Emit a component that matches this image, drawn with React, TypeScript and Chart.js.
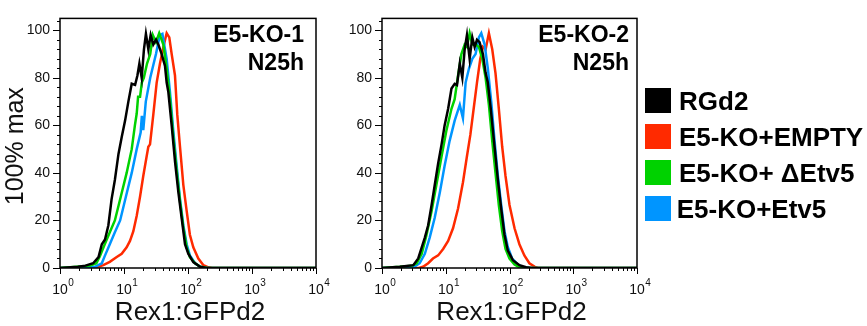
import React, { useEffect, useRef } from "react";
import { Chart, registerables } from "chart.js";

Chart.register(...registerables);

const FONT = '"Liberation Sans", Arial, Helvetica, sans-serif';

// ---- data (x = Rex1:GFPd2 intensity, y = % of max) ----
const seriesNames = ["RGd2", "E5-KO+EMPTY", "E5-KO+ \u0394Etv5", "E5-KO+Etv5"];
const seriesColors = ["#000000", "#ff2a00", "#00d200", "#0095ff"];

const ko1Black = [[1,0],[1.9,0.5],[2.5,1],[3.3,2],[4.0,4.6],[4.5,10],[5.05,12],[5.7,18],[6.4,29],[7.2,37],[8.2,48],[9.2,55],[10.4,62],[11.7,70],[13.2,77.5],[14.9,77],[16.2,81],[17.4,86],[18.9,80],[20.5,92],[22,98.5],[24,92],[26.1,98],[28.7,94],[31.6,96],[34.4,94],[38.8,90],[43.7,85],[46.4,78],[49.3,74],[55.6,60],[62.6,45],[70.6,32],[79.6,21],[89.8,10],[101,6],[121,2.5],[155,0.5],[195,0],[10000,0]];
const ko1Red = [[1,0],[3.2,0],[3.7,0.3],[4.75,1.2],[6.0,2.6],[7.7,4.6],[9.2,6],[11,8.7],[12.4,11.4],[14,15.5],[15.8,22],[17.8,30],[20,38.7],[22.6,47],[24,51],[25.5,52],[28.7,64.5],[32.4,78],[36.5,86],[41.2,93],[46.4,98.8],[51,97],[55.6,90],[62.6,81],[68,64.5],[75,51],[84.5,35],[95.3,24],[107,14],[121,8.7],[145,4],[174,1.2],[208,0.3],[240,0],[10000,0]];
const ko1Green = [[1,0],[2.95,1],[3.7,2],[4.2,5],[5.0,10],[6.0,15],[7.2,20],[8.9,30],[11,40],[13.2,50],[14.8,60],[15.8,65],[16.6,72],[17.8,72],[19,78],[20.4,80],[22.9,86],[25.7,90],[28.2,98],[31.6,95],[35.5,98.8],[41.2,94],[46.4,84],[52.3,71],[59,55],[66.5,41],[75,28],[84.5,17],[95.3,8.7],[107,4.6],[129,2],[155,0.5],[200,0],[10000,0]];
const ko1Blue = [[1,0],[3.5,0.5],[4.5,2],[5.0,5],[6.0,10],[7.2,15],[8.7,20],[10.7,30],[13.2,40],[15.8,50],[18.2,57],[19,64],[20,58],[21.9,70],[25.7,80],[31.6,90],[36.3,98],[39.8,98.5],[46.4,88],[52.3,74],[59,57.6],[66.5,43],[75,29],[84.5,18],[95.3,10],[107,5.3],[129,2],[155,0.5],[200,0],[10000,0]];

const ko2Black = [[1,0],[1.9,0.5],[3.1,1.2],[3.7,4],[4.2,8.7],[4.7,12.8],[5.3,18],[6.0,26.5],[6.7,34.7],[7.6,44],[8.6,52],[9.6,60],[10.9,67],[12.3,75.5],[13.8,77.5],[15,77],[16.6,86],[18.2,80],[19.8,92],[21.5,98],[23.7,88],[26.1,97],[28.4,93],[30.9,96],[33.9,95],[38.3,90],[42.2,82],[45.7,78],[51.3,66],[58.3,51],[65.8,37],[74.1,25],[83.5,14],[94.2,7.3],[113,3.3],[143,1.2],[182,0.3],[230,0],[10000,0]];
const ko2Red = [[1,0],[3.8,0],[4.4,0.5],[5.3,2],[6.3,4],[7.6,5.3],[9.1,8],[10.9,11.4],[13,16.7],[15.6,25],[18.6,36],[21.5,47],[24.3,56],[27.4,67],[30.9,78],[34.8,88],[38.3,93],[42.2,92],[47.5,98.8],[53.6,92],[60.3,82],[68,67],[76.8,51],[86.6,38.7],[100,26.5],[120,16.7],[143,10],[171,5.3],[205,2],[250,0.5],[280,0],[10000,0]];
const ko2Green = [[1,0],[1.9,0.5],[3.0,1],[3.5,2],[4.2,6],[5.0,14],[6.0,24],[7.1,34.7],[8.6,47],[10.2,57.6],[12.3,67],[13.8,71],[15.6,81],[17.6,90],[19.8,94],[21.5,93],[23.7,98.8],[26.1,94],[29.4,94],[33.1,93],[37.4,88],[42.2,80],[47.5,68.6],[53.6,53.5],[60.3,40],[68,26.5],[76.8,15.5],[86.6,8],[100,4],[120,1.5],[143,0.3],[200,0],[10000,0]];
const ko2Blue = [[1,0],[3.2,0.5],[3.9,2],[4.7,6],[5.6,12.8],[6.7,21],[8.1,32],[9.6,43],[11.5,53.5],[13.8,62],[16.6,68.6],[18.6,63],[20.5,78],[23.2,84],[26.1,88],[29.4,90],[33.1,97],[36.1,98.8],[40.7,94],[45.7,84],[51.7,70],[58.3,53.5],[65.8,38.7],[74.1,26.5],[83.5,15.5],[94.2,8.7],[110,4],[135,1.5],[162,0.3],[210,0],[10000,0]];

const xTickValues = [1, 10, 100, 1000, 10000];
const xTickExponents = ["0", "1", "2", "3", "4"];
const yTickValues = [0, 20, 40, 60, 80, 100];
const xTitle = "Rex1:GFPd2";
const yTitle = "100% max";

const panels = [
  { label: ["E5-KO-1", "N25h"], series: [ko1Black, ko1Red, ko1Green, ko1Blue], yTitle: true, left: 0, labelInset: 12, padRight: 29 },
  { label: ["E5-KO-2", "N25h"], series: [ko2Black, ko2Red, ko2Green, ko2Blue], yTitle: false, left: 322, labelInset: 8, padRight: 30 },
];

const decorPlugin = {
  id: "decor",
  afterDraw(chart: any, _args: any, opts: any) {
    const { ctx, chartArea: a, scales } = chart;
    const x = scales.x, y = scales.y;
    ctx.save();
    ctx.strokeStyle = "#000";
    ctx.lineWidth = 1.5;
    ctx.strokeRect(a.left, a.top, a.right - a.left, a.bottom - a.top);
    ctx.lineWidth = 1;
    // y ticks
    for (let v = 0; v <= 104; v += 4) {
      const py = Math.round(y.getPixelForValue(v)) + 0.5;
      const len = yTickValues.includes(v) ? 7 : 3;
      ctx.beginPath();
      ctx.moveTo(a.left - len, py);
      ctx.lineTo(a.left, py);
      ctx.stroke();
    }
    // x ticks
    for (let d = 0; d < xTickValues.length - 1; d++) {
      for (let m = 1; m <= 9; m++) {
        const v = xTickValues[d] * m;
        const px = Math.round(x.getPixelForValue(v)) + 0.5;
        const len = m === 1 ? 6 : 3;
        ctx.beginPath();
        ctx.moveTo(px, a.bottom);
        ctx.lineTo(px, a.bottom + len);
        ctx.stroke();
      }
    }
    {
      const px = Math.round(x.getPixelForValue(xTickValues[xTickValues.length - 1])) + 0.5;
      ctx.beginPath();
      ctx.moveTo(px, a.bottom);
      ctx.lineTo(px, a.bottom + 6);
      ctx.stroke();
    }
    // x tick labels
    ctx.fillStyle = "#111";
    ctx.textBaseline = "alphabetic";
    ctx.textAlign = "left";
    xTickValues.forEach((v, i) => {
      const px = x.getPixelForValue(v);
      ctx.font = `14px ${FONT}`;
      const w = ctx.measureText("10").width;
      ctx.fillText("10", px - w / 2, 294);
      ctx.font = `10px ${FONT}`;
      ctx.fillText(xTickExponents[i], px + w / 2 + 0.5, 286);
    });
    // x title
    ctx.fillStyle = "#111";
    ctx.font = `26px ${FONT}`;
    ctx.textAlign = "center";
    ctx.fillText(xTitle, (a.left + a.right) / 2 + 2, 320);
    // y title
    if (opts.yTitle) {
      ctx.save();
      ctx.translate(16, (a.top + a.bottom) / 2 + 3);
      ctx.rotate(-Math.PI / 2);
      ctx.textAlign = "center";
      ctx.textBaseline = "middle";
      ctx.font = `25px ${FONT}`;
      ctx.fillText(yTitle, 0, 0);
      ctx.restore();
    }
    // panel label
    ctx.fillStyle = "#000";
    ctx.font = `bold 23px ${FONT}`;
    ctx.textAlign = "right";
    ctx.textBaseline = "alphabetic";
    ctx.fillText(opts.label[0], a.right - opts.labelInset, 42);
    ctx.fillText(opts.label[1], a.right - opts.labelInset, 70);
    ctx.restore();
  },
};

function Panel({ cfg }: { cfg: any }) {
  const ref = useRef<HTMLCanvasElement>(null);
  useEffect(() => {
    if (!ref.current) return;
    const order = [0, 2, 3, 1];
    const chart = new Chart(ref.current, {
      type: "line",
      data: {
        datasets: order.map((i) => ({
          label: seriesNames[i],
          data: cfg.series[i].map(([xv, yv]: number[]) => ({ x: xv, y: yv })),
          borderColor: seriesColors[i],
          backgroundColor: seriesColors[i],
          borderWidth: 2.5,
          pointRadius: 0,
          tension: 0,
          fill: false,
        })),
      },
      options: {
        animation: false,
        responsive: false,
        maintainAspectRatio: false,
        devicePixelRatio: 1,
        layout: { padding: { left: 0, right: cfg.padRight, top: 10, bottom: 0 } },
        plugins: {
          legend: { display: false },
          tooltip: { enabled: false },
          decor: { yTitle: cfg.yTitle, label: cfg.label, labelInset: cfg.labelInset },
        } as any,
        scales: {
          x: {
            type: "logarithmic",
            min: 1,
            max: 10000,
            grid: { display: false },
            border: { display: false },
            ticks: { display: false },
            afterFit: (s: any) => { s.height = 58; },
          },
          y: {
            type: "linear",
            min: 0,
            max: 105,
            grid: { display: false, drawTicks: false },
            border: { display: false },
            ticks: {
              stepSize: 20,
              includeBounds: false,
              padding: 10,
              color: "#111",
              font: { family: FONT, size: 14 },
            },
            afterFit: (s: any) => { s.width = 60; },
          },
        },
      },
      plugins: [decorPlugin],
    } as any);
    return () => chart.destroy();
  }, [cfg]);
  return (
    <canvas
      ref={ref}
      width={345}
      height={326}
      style={{ position: "absolute", left: cfg.left, top: 0, width: 345, height: 326 }}
    />
  );
}

export default function App() {
  const legendTextLeft = [8, 8, 8, 5.7];
  return (
    <div style={{ position: "absolute", left: 0, top: 0, width: 867, height: 326, background: "#fff", overflow: "hidden" }}>
      {panels.map((p, i) => (
        <Panel key={i} cfg={p} />
      ))}
      <div style={{ position: "absolute", left: 645, top: 88, fontFamily: FONT, fontWeight: "bold", fontSize: 26, color: "#000" }}>
        {seriesNames.map((n, i) => (
          <div key={n} style={{ display: "flex", alignItems: "center", height: 25, marginBottom: 11 }}>
            <div style={{ width: 26, height: 25, background: seriesColors[i], flex: "none" }} />
            <div style={{ marginLeft: legendTextLeft[i], lineHeight: "25px", paddingTop: 1, whiteSpace: "pre" }}>{n}</div>
          </div>
        ))}
      </div>
    </div>
  );
}
